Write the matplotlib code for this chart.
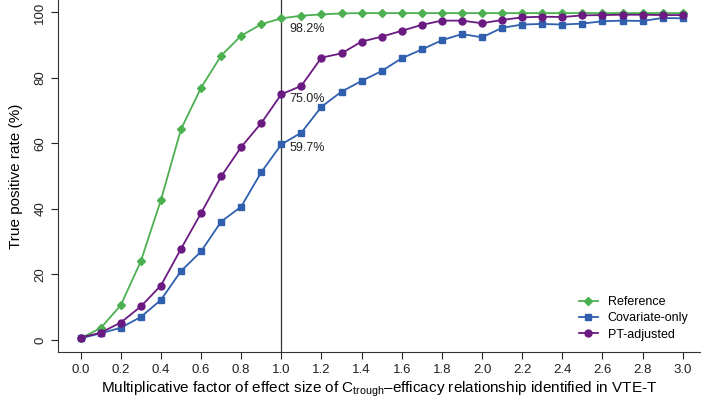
import matplotlib
matplotlib.use("Agg")
import matplotlib.pyplot as plt
import numpy as np

plt.rcParams["font.family"] = ["Liberation Sans", "DejaVu Sans"]
plt.rcParams["mathtext.fontset"] = "custom"
plt.rcParams["mathtext.rm"] = "Liberation Sans"
plt.rcParams["mathtext.it"] = "Liberation Sans"

# effect size multipliers
factor = np.round(np.arange(0, 31) * 0.1, 1)

reference = [0.5, 3.6, 10.6, 24.0, 42.7, 64.3, 77.0, 86.8, 92.9, 96.4, 98.2,
             99.0, 99.4, 99.7, 99.8, 99.8, 99.8, 99.8, 99.8, 99.8, 99.8,
             99.8, 99.8, 99.8, 99.8, 99.8, 99.8, 99.8, 99.8, 99.8, 99.8]
covariate = [0.5, 2.0, 3.7, 7.0, 12.2, 21.0, 27.0, 36.1, 40.7, 51.2, 59.7,
             63.3, 71.2, 75.8, 79.1, 82.1, 86.0, 88.7, 91.5, 93.4, 92.4,
             95.3, 96.3, 96.5, 96.3, 96.6, 97.3, 97.5, 97.4, 98.3, 98.2]
pt_adjusted = [0.7, 2.2, 5.3, 10.2, 16.6, 27.8, 38.7, 49.9, 58.9, 66.2, 75.0,
               77.6, 86.2, 87.5, 91.1, 92.6, 94.4, 96.2, 97.5, 97.5, 96.7,
               97.7, 98.5, 98.7, 98.6, 99.1, 99.2, 99.3, 99.3, 99.2, 99.2]

labels_at_1 = ["98.2%", "75.0%", "59.7%"]
label_y = [95.0, 73.6, 58.6]

green = "#4cb050"
blue = "#2f5fad"
purple = "#6a1a80"

fig = plt.figure(figsize=(7.09, 4.04), dpi=100)
ax = fig.add_axes([0.082, 0.129, 0.905, 0.871])

ax.axvline(1.0, color="#333333", lw=0.9, zorder=1)

ax.plot(factor, reference, color=green, marker="D", ms=4.5, lw=1.3, label="Reference", zorder=3)
ax.plot(factor, covariate, color=blue, marker="s", ms=5, lw=1.3, label="Covariate-only", zorder=3)
ax.plot(factor, pt_adjusted, color=purple, marker="o", ms=5, lw=1.3, label="PT-adjusted", zorder=4)

for txt, yy in zip(labels_at_1, label_y):
    ax.text(1.04, yy, txt, fontsize=9, va="center", ha="left", color="#222222")

ax.set_xlim(-0.112, 3.085)
ax.set_ylim(-3.66, 103.8)
ax.set_xticks(np.round(np.arange(0, 3.01, 0.2), 1))
ax.set_xticklabels([f"{v:.1f}" for v in np.arange(0, 3.01, 0.2)])
ax.set_yticks([0, 20, 40, 60, 80, 100])
ax.tick_params(axis="both", direction="out", length=5, width=0.8, labelsize=9.5, colors="#222222")
plt.setp(ax.get_yticklabels(), rotation=90, va="center")

for s in ["top", "right"]:
    ax.spines[s].set_visible(False)
for s in ["left", "bottom"]:
    ax.spines[s].set_linewidth(0.8)
    ax.spines[s].set_color("#333333")

ax.set_xlabel(r"Multiplicative factor of effect size of C$_{\mathrm{trough}}$–efficacy relationship identified in VTE-T",
              fontsize=11, labelpad=3)
ax.set_ylabel("True positive rate (%)", fontsize=11, labelpad=8)

ax.legend(loc="lower right", frameon=False, fontsize=9, handlelength=1.5,
          handletextpad=0.8, bbox_to_anchor=(1.0, 0.0), labelspacing=0.35)

fig.savefig("out.png", dpi=100)
